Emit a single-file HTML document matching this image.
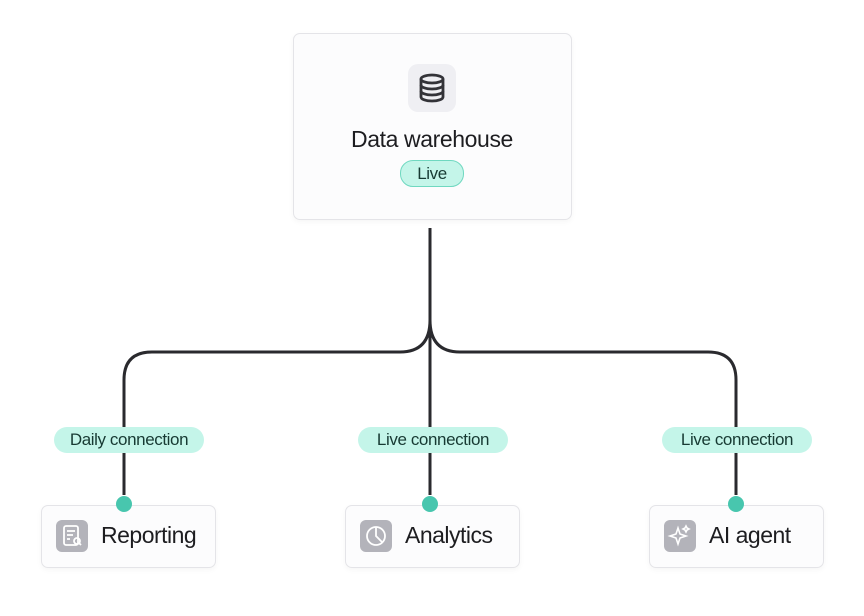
<!DOCTYPE html>
<html><head><style>
body{margin:0;width:864px;height:616px;background:#fff;font-family:"Liberation Sans",sans-serif;position:relative;overflow:hidden}
.box{position:absolute;background:#fcfcfd;border:1px solid #e4e4e8;border-radius:7px;box-shadow:0 2px 6px rgba(0,0,0,0.04)}
.pill{position:absolute;background:#c4f5e9;color:#173a33;border-radius:13px;font-size:17px;text-align:center;line-height:26px;height:26px;letter-spacing:-0.4px}
.dot{position:absolute;width:16px;height:16px;border-radius:50%;background:#48c6ae}
.lab{position:absolute;font-size:23px;color:#1d1d20;letter-spacing:-0.5px}
.ic{position:absolute;width:32px;height:32px;border-radius:6px;background:#b3b3ba}
</style></head><body>
<svg width="864" height="616" style="position:absolute;left:0;top:0">
<g fill="none" stroke="#2a2a2e" stroke-width="3">
<path d="M430 228 V495"/>
<path d="M430 320 Q430 352 400 352 H152 Q124 352 124 380 V495"/>
<path d="M430 320 Q430 352 460 352 H708 Q736 352 736 380 V495"/>
</g></svg>
<div class="box" style="left:293px;top:33px;width:277px;height:185px"></div>
<div style="position:absolute;left:408px;top:64px;width:48px;height:48px;border-radius:10px;background:#efeff3"></div>
<svg style="position:absolute;left:416px;top:72px" width="32" height="32" viewBox="0 0 32 32" fill="none" stroke="#333338" stroke-width="2.8">
<ellipse cx="16" cy="7" rx="11" ry="4"/><path d="M5 7v18c0 2.2 4.9 4 11 4s11-1.8 11-4V7"/><path d="M5 13c0 2.2 4.9 4 11 4s11-1.8 11-4M5 19c0 2.2 4.9 4 11 4s11-1.8 11-4"/></svg>
<div class="lab" style="left:293px;width:278px;text-align:center;top:126px;font-size:23px;letter-spacing:-0.4px">Data warehouse</div>
<div class="pill" style="left:400px;top:160px;width:62px;border:1px solid #6fd8c0;height:25px;line-height:25px;font-size:17px">Live</div>

<div class="pill" style="left:54px;top:427px;width:150px">Daily connection</div>
<div class="pill" style="left:358px;top:427px;width:150px">Live connection</div>
<div class="pill" style="left:662px;top:427px;width:150px">Live connection</div>

<div class="box" style="left:41px;top:505px;width:173px;height:61px"></div>
<div class="box" style="left:345px;top:505px;width:173px;height:61px"></div>
<div class="box" style="left:649px;top:505px;width:173px;height:61px"></div>
<div class="dot" style="left:116px;top:496px"></div>
<div class="dot" style="left:422px;top:496px"></div>
<div class="dot" style="left:728px;top:496px"></div>

<div class="ic" style="left:56px;top:520px"></div>
<div class="ic" style="left:360px;top:520px"></div>
<div class="ic" style="left:664px;top:520px"></div>
<svg style="position:absolute;left:56px;top:520px" width="32" height="32" fill="none" stroke="#fff" stroke-width="1.8"><rect x="8" y="6" width="14" height="19" rx="2"/><path d="M11 11h8M11 15h6M11 19h3"/><circle cx="21" cy="21" r="3"/><path d="M23 23l2 2"/></svg>
<svg style="position:absolute;left:360px;top:520px" width="32" height="32" fill="none" stroke="#fff" stroke-width="1.8"><circle cx="16" cy="16" r="9"/><path d="M16 7v9l6 6"/></svg>
<svg style="position:absolute;left:664px;top:520px" width="32" height="32" fill="none" stroke="#fff" stroke-width="1.6"><path d="M14 8l2 6 6 2-6 2-2 6-2-6-6-2 6-2z"/><path d="M22 6l1 2 2 1-2 1-1 2-1-2-2-1 2-1z"/></svg>
<div class="lab" style="left:101px;top:522px">Reporting</div>
<div class="lab" style="left:405px;top:522px">Analytics</div>
<div class="lab" style="left:709px;top:522px">AI agent</div>
</body></html>
